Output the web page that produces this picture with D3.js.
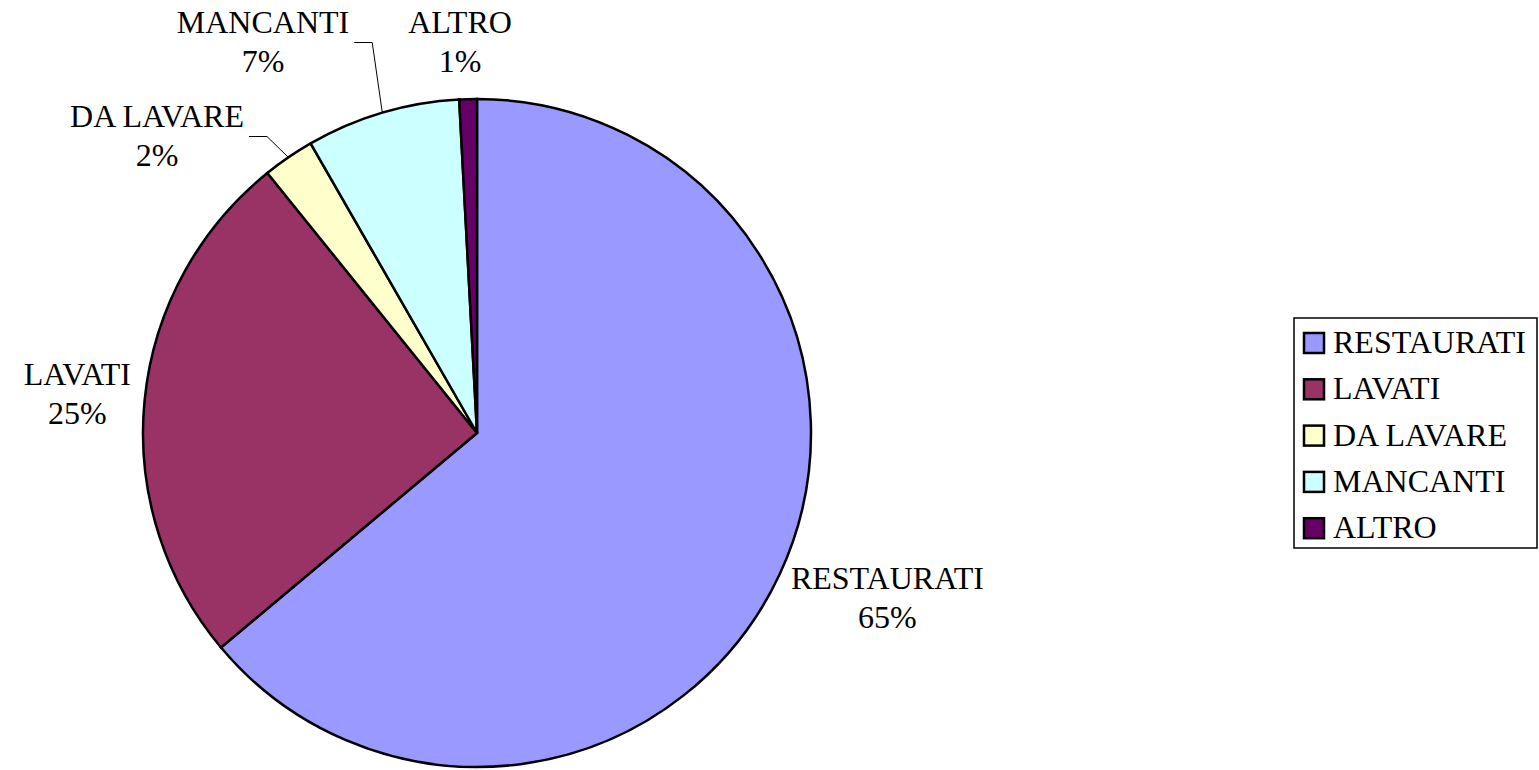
<!DOCTYPE html>
<meta charset="utf-8">
<style type="text/css">
body {
  margin: 0;
  background: #fff;
}
text {
  font-family: "Liberation Serif", "Times New Roman", serif;
  font-size: 32px;
  fill: #000;
}
.slice {
  stroke: #000;
  stroke-width: 2.5px;
}
.leader {
  fill: none;
  stroke: #000;
  stroke-width: 1px;
}
.legend-box {
  fill: #fff;
  stroke: #000;
  stroke-width: 1.5px;
}
.swatch {
  stroke: #000;
  stroke-width: 2.5px;
}
</style>
<body>
<script src="https://cdn.jsdelivr.net/npm/d3@7"></script>
<script>
// data
var categories = ["RESTAURATI", "LAVATI", "DA LAVARE", "MANCANTI", "ALTRO"];
var shares = [63.9, 25.3, 2.5, 7.45, 0.85];
var pctLabels = ["65%", "25%", "2%", "7%", "1%"];
var colors = ["#9999ff", "#993366", "#ffffcc", "#ccffff", "#660066"];

var width = 1539;
var height = 770;

var cx = 477, cy = 433, r = 334;

// labels that were dragged away from the pie (centre of the label block)
var movedLabels = {
  "DA LAVARE": { x: 157, y: 136.5, leader: true },
  "MANCANTI": { x: 263, y: 42.5, leader: true },
  "ALTRO": { x: 460, y: 42.5, leader: false }
};

var svg = d3.select("body")
  .append("svg")
    .attr("width", width)
    .attr("height", height);

var data = categories.map(function(c, i) {
  return { name: c, value: shares[i], label: pctLabels[i], color: colors[i] };
});

var pie = d3.pie()
  .sort(null)
  .value(function(d) { return d.value; });

var arc = d3.arc()
  .innerRadius(0)
  .outerRadius(r);

var arcs = pie(data);

var g = svg.append("g")
  .attr("transform", "translate(" + cx + "," + cy + ")");

g.selectAll("path.slice")
  .data(arcs)
  .enter().append("path")
    .attr("class", "slice")
    .attr("d", arc)
    .style("fill", function(d) { return d.data.color; });

/* Labels */
function polar(radius, a) {
  return [cx + radius * Math.sin(a), cy - radius * Math.cos(a)];
}

arcs.forEach(function(d) {
  var mid = (d.startAngle + d.endAngle) / 2;
  var t = svg.append("text")
    .attr("text-anchor", "middle");
  var l1 = t.append("tspan").text(d.data.name);
  var l2 = t.append("tspan").text(d.data.label);

  var w = Math.max(l1.node().getComputedTextLength(), l2.node().getComputedTextLength());
  var h = 78;
  var pos;
  var moved = movedLabels[d.data.name];
  if (moved) {
    pos = [moved.x, moved.y];
  } else {
    var anchor = polar(r + 18, mid);
    pos = [anchor[0] + Math.sin(mid) * w / 2 + 4, anchor[1] - Math.cos(mid) * h / 2];
  }
  l1.attr("x", pos[0]).attr("y", pos[1] - 9.5);
  l2.attr("x", pos[0]).attr("y", pos[1] + 29.5);

  if (moved && moved.leader) {
    var start = [pos[0] + w / 2 + 5, pos[1]];
    var bend = [start[0] + 18, pos[1]];
    var end = polar(r, mid);
    svg.append("path")
      .attr("class", "leader")
      .attr("d", d3.line()([start, bend, end]));
  }
});

/* Legend */
var legend = svg.append("g")
  .attr("transform", "translate(1294,318)");

legend.append("rect")
  .attr("class", "legend-box")
  .attr("width", 243)
  .attr("height", 230);

var item = legend.selectAll("g.item")
  .data(data)
  .enter().append("g")
    .attr("class", "item")
    .attr("transform", function(d, i) { return "translate(0," + (25 + i * 46.3) + ")"; });

item.append("rect")
  .attr("class", "swatch")
  .attr("x", 10)
  .attr("y", -10)
  .attr("width", 20)
  .attr("height", 20)
  .style("fill", function(d) { return d.color; });

item.append("text")
  .attr("x", 39)
  .attr("y", 10)
  .text(function(d) { return d.name; });
</script>
</body>
